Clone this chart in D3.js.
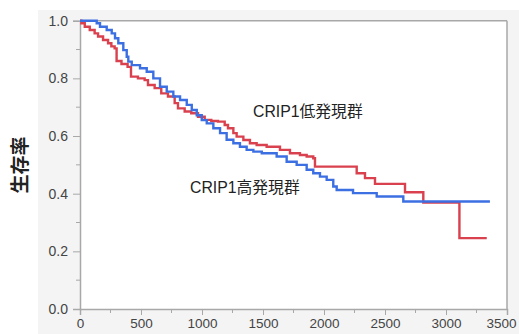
<!DOCTYPE html>
<html><head><meta charset="utf-8">
<script src="https://cdn.jsdelivr.net/npm/d3@7"></script>
<style>
body{margin:0;background:#fff;}
svg{display:block;}
</style></head>
<body>
<svg id="c" width="519" height="334"></svg>
<script>
// Data
const lowTimes = [0, 11, 39, 80, 120, 148, 189, 230, 257, 284, 300, 340, 390, 418, 475, 530, 557, 612, 666, 721, 776, 803, 858, 912, 967, 1022, 1076, 1131, 1186, 1213, 1257, 1284, 1339, 1393, 1448, 1530, 1639, 1721, 1803, 1858, 1912, 1926, 2268, 2336, 2418, 2664, 2814, 3110, 3334];
const lowSurv  = [1.0, 0.991, 0.979, 0.968, 0.956, 0.945, 0.933, 0.922, 0.911, 0.904, 0.86, 0.85, 0.84, 0.806, 0.80, 0.794, 0.777, 0.766, 0.748, 0.737, 0.714, 0.696, 0.685, 0.679, 0.667, 0.656, 0.652, 0.65, 0.638, 0.627, 0.61, 0.598, 0.586, 0.575, 0.569, 0.563, 0.552, 0.54, 0.534, 0.529, 0.523, 0.494, 0.471, 0.454, 0.434, 0.405, 0.369, 0.246, 0.246];
const highTimes = [0, 137, 164, 219, 260, 287, 314, 355, 383, 396, 424, 492, 547, 601, 656, 711, 765, 820, 875, 916, 957, 998, 1039, 1093, 1148, 1202, 1257, 1311, 1366, 1421, 1490, 1612, 1694, 1776, 1858, 1912, 1967, 2022, 2076, 2104, 2238, 2432, 2650, 3360];
const highSurv  = [1.0, 0.991, 0.979, 0.968, 0.956, 0.939, 0.922, 0.898, 0.875, 0.858, 0.846, 0.835, 0.823, 0.80, 0.771, 0.754, 0.737, 0.725, 0.708, 0.69, 0.672, 0.655, 0.644, 0.627, 0.61, 0.587, 0.575, 0.563, 0.552, 0.546, 0.54, 0.529, 0.511, 0.5, 0.483, 0.471, 0.459, 0.448, 0.425, 0.413, 0.402, 0.39, 0.373, 0.373];
const xTicks = [0, 500, 1000, 1500, 2000, 2500, 3000, 3500];
const yTicks = [0, 0.2, 0.4, 0.6, 0.8, 1.0];
const seriesNames = ["CRIP1低発現群", "CRIP1高発現群"];
const yLabel = "生存率";

const svg = d3.select("#c");
const L = 80, R = 507, T = 20.7, B = 309;
const x = d3.scaleLinear().domain([0, 3500]).range([L, R]);
const y = d3.scaleLinear().domain([0, 1]).range([B, T]);

// backgrounds
svg.append("rect").attr("x", 38).attr("y", 10).attr("width", 519 - 38).attr("height", 334 - 10).attr("fill", "#f4f4f4");
svg.append("rect").attr("x", L).attr("y", T).attr("width", R - L).attr("height", B - T).attr("fill", "#fff");

const font = "'Liberation Sans', Arial, 'Noto Sans CJK JP', sans-serif";
const axisCol = "#a8a8a8";

// minor ticks
const gMinor = svg.append("g");
d3.range(250, 3500, 500).forEach(v => {
  gMinor.append("line").attr("x1", x(v)).attr("x2", x(v)).attr("y1", B).attr("y2", B + 4).attr("stroke", axisCol).attr("stroke-width", 1);
});
d3.range(0.1, 1.0, 0.2).forEach(v => {
  gMinor.append("line").attr("x1", L - 4).attr("x2", L).attr("y1", y(v)).attr("y2", y(v)).attr("stroke", axisCol).attr("stroke-width", 1);
});

// axes
const gx = svg.append("g").attr("transform", `translate(0,${B})`)
  .call(d3.axisBottom(x).tickValues(xTicks).tickFormat(d3.format("d")).tickSize(6).tickPadding(3));
const gy = svg.append("g").attr("transform", `translate(${L},0)`)
  .call(d3.axisLeft(y).tickValues(yTicks).tickFormat(d3.format(".1f")).tickSize(7).tickPadding(5));
[gx, gy].forEach(g => {
  g.select(".domain").attr("stroke", axisCol).attr("stroke-width", 1.5);
  g.selectAll(".tick line").attr("stroke", axisCol).attr("stroke-width", 1);
  g.selectAll("text").attr("font-family", font).attr("font-size", 14).attr("fill", "#444");
});
gx.selectAll("text").attr("font-size", 13.5);
// keep last x label inside the window
gx.selectAll(".tick").filter(d => d === 3500).select("text").attr("dx", -6);

// frame top & right
svg.append("line").attr("x1", L).attr("x2", R).attr("y1", T).attr("y2", T).attr("stroke", axisCol).attr("stroke-width", 1.5);
svg.append("line").attr("x1", R).attr("x2", R).attr("y1", T).attr("y2", B).attr("stroke", axisCol).attr("stroke-width", 1.5);

// curves
const line = d3.line().x(d => x(d[0])).y(d => y(d[1])).curve(d3.curveStepAfter);
const lowData = lowTimes.map((t, i) => [t, lowSurv[i]]);
const highData = highTimes.map((t, i) => [t, highSurv[i]]);
svg.append("path").datum(lowData).attr("d", line).attr("fill", "none").attr("stroke", "#d9414f").attr("stroke-width", 2.4);
svg.append("path").datum(highData).attr("d", line).attr("fill", "none").attr("stroke", "#3c6fe2").attr("stroke-width", 2.4);

// labels
svg.append("text").attr("x", 253).attr("y", 117).attr("font-family", font).attr("font-size", 15.8).attr("fill", "#222").text(seriesNames[0]);
svg.append("text").attr("x", 190).attr("y", 193).attr("font-family", font).attr("font-size", 15.8).attr("fill", "#222").text(seriesNames[1]);

svg.append("text").attr("transform", "translate(27,165) rotate(-90)").attr("text-anchor", "middle")
  .attr("font-family", "'Noto Sans CJK JP', sans-serif").attr("font-weight", "bold").attr("font-size", 19).attr("fill", "#222").text(yLabel);
</script>
</body></html>
